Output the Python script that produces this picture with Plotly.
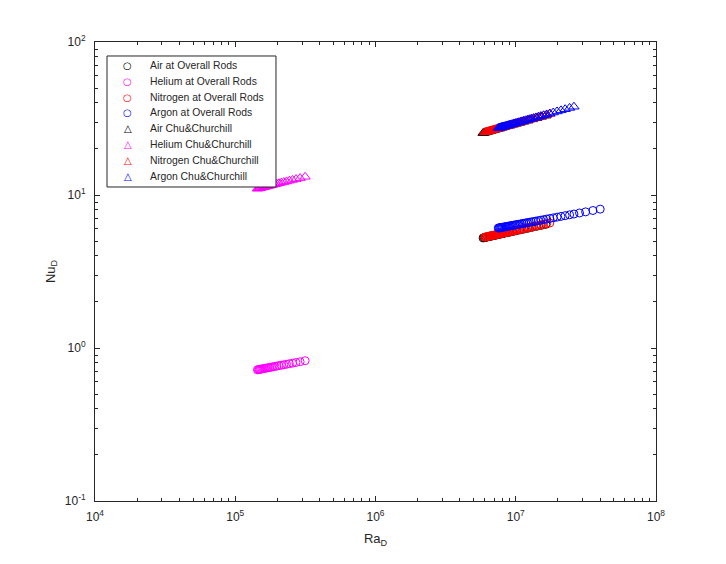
import plotly.graph_objects as go

# ---------------- data ----------------
he_ra = [1.44e5, 1.46e5, 1.48e5, 1.50e5, 1.52e5, 1.55e5, 1.58e5, 1.61e5, 1.64e5, 1.68e5,
         1.72e5, 1.76e5, 1.81e5, 1.86e5, 1.92e5, 1.98e5, 2.05e5, 2.13e5, 2.22e5, 2.32e5,
         2.43e5, 2.56e5, 2.71e5, 2.90e5, 3.15e5]
he_nu_rods = [0.720, 0.722, 0.724, 0.725, 0.727, 0.730, 0.732, 0.735, 0.737, 0.740,
              0.743, 0.746, 0.750, 0.754, 0.758, 0.762, 0.767, 0.772, 0.777, 0.783,
              0.789, 0.796, 0.804, 0.813, 0.826]
he_nu_cc = [11.00, 11.03, 11.07, 11.10, 11.14, 11.18, 11.24, 11.29, 11.33, 11.40,
            11.46, 11.52, 11.60, 11.67, 11.76, 11.84, 11.94, 12.04, 12.15, 12.27,
            12.40, 12.55, 12.70, 12.90, 13.15]

air_ra = [5.85e6, 5.95e6, 6.05e6, 6.15e6, 6.3e6, 6.45e6, 6.6e6, 6.8e6, 7.0e6, 7.2e6,
          7.45e6, 7.7e6, 8.0e6, 8.3e6, 8.7e6, 9.1e6, 9.6e6, 10.1e6, 10.7e6, 11.4e6,
          12.2e6, 13.1e6, 14.1e6, 15.2e6, 16.4e6]
air_nu_rods = [5.24, 5.26, 5.28, 5.29, 5.32, 5.34, 5.37, 5.40, 5.43, 5.46,
               5.50, 5.53, 5.58, 5.62, 5.67, 5.72, 5.78, 5.84, 5.91, 5.98,
               6.06, 6.15, 6.24, 6.33, 6.43]
air_nu_cc = [25.4, 25.5, 25.6, 25.7, 25.9, 26.0, 26.2, 26.4, 26.6, 26.8,
             27.0, 27.2, 27.5, 27.8, 28.1, 28.4, 28.8, 29.2, 29.6, 30.1,
             30.6, 31.2, 31.8, 32.4, 33.0]

n2_ra = [6.0e6, 6.1e6, 6.2e6, 6.3e6, 6.4e6, 6.5e6, 6.6e6, 6.7e6, 6.8e6, 6.9e6,
         7.0e6, 7.1e6, 7.2e6, 7.3e6, 7.4e6, 7.5e6, 7.6e6, 7.7e6, 7.8e6, 7.9e6,
         8.0e6, 8.1e6, 8.25e6, 8.4e6, 8.55e6, 8.7e6, 8.85e6, 9.0e6, 9.2e6, 9.4e6,
         9.6e6, 9.8e6, 10.0e6, 10.25e6, 10.5e6, 10.8e6, 11.1e6, 11.4e6, 11.75e6, 12.1e6,
         12.5e6, 12.9e6, 13.4e6, 13.9e6, 14.5e6, 15.1e6, 15.8e6, 16.6e6, 17.5e6]
n2_nu_rods = [5.300, 5.318, 5.335, 5.352, 5.369, 5.386, 5.402, 5.418, 5.434, 5.450,
              5.466, 5.481, 5.497, 5.512, 5.527, 5.542, 5.557, 5.571, 5.586, 5.600,
              5.614, 5.628, 5.649, 5.669, 5.689, 5.709, 5.729, 5.748, 5.773, 5.798,
              5.822, 5.846, 5.870, 5.898, 5.927, 5.960, 5.994, 6.026, 6.062, 6.098,
              6.138, 6.177, 6.224, 6.270, 6.323, 6.374, 6.432, 6.496, 6.565]
n2_nu_cc = [25.70, 25.81, 25.92, 26.03, 26.13, 26.24, 26.34, 26.44, 26.54, 26.64,
            26.74, 26.84, 26.94, 27.03, 27.13, 27.22, 27.31, 27.41, 27.50, 27.59,
            27.68, 27.77, 27.89, 28.02, 28.15, 28.28, 28.40, 28.53, 28.69, 28.85,
            29.01, 29.17, 29.32, 29.50, 29.68, 29.90, 30.12, 30.33, 30.56, 30.80,
            31.05, 31.31, 31.62, 31.92, 32.27, 32.60, 32.99, 33.41, 33.86]

ar_ra_cc = [7.5e6, 7.6e6, 7.7e6, 7.8e6, 7.9e6, 8.0e6, 8.1e6, 8.25e6, 8.4e6, 8.55e6,
            8.7e6, 8.85e6, 9.0e6, 9.2e6, 9.4e6, 9.6e6, 9.8e6, 10.0e6, 10.25e6, 10.5e6,
            10.8e6, 11.1e6, 11.4e6, 11.75e6, 12.1e6, 12.5e6, 12.9e6, 13.4e6, 13.9e6, 14.5e6,
            15.1e6, 15.8e6, 16.6e6, 17.5e6, 18.5e6, 19.7e6, 21.0e6, 22.5e6, 24.2e6, 26.0e6]
ar_nu_cc = [27.40, 27.49, 27.59, 27.68, 27.77, 27.86, 27.95, 28.08, 28.21, 28.34,
            28.47, 28.59, 28.72, 28.88, 29.04, 29.20, 29.36, 29.51, 29.70, 29.88,
            30.10, 30.32, 30.53, 30.76, 31.00, 31.26, 31.52, 31.83, 32.13, 32.48,
            32.82, 33.21, 33.63, 34.09, 34.59, 35.16, 35.74, 36.38, 37.07, 37.76]

ar_ra_rods = [7.5e6, 7.6e6, 7.7e6, 7.8e6, 7.9e6, 8.0e6, 8.1e6, 8.25e6, 8.4e6, 8.55e6,
              8.7e6, 8.85e6, 9.0e6, 9.2e6, 9.4e6, 9.6e6, 9.8e6, 10.0e6, 10.25e6, 10.5e6,
              10.8e6, 11.1e6, 11.4e6, 11.75e6, 12.1e6, 12.5e6, 12.9e6, 13.4e6, 13.9e6, 14.5e6,
              15.1e6, 15.8e6, 16.6e6, 17.5e6, 18.5e6, 19.7e6, 21.0e6, 22.5e6, 24.2e6, 26.0e6,
              28.5e6, 31.5e6, 35.5e6, 40.0e6]
ar_nu_rods = [6.080, 6.094, 6.107, 6.121, 6.134, 6.147, 6.160, 6.179, 6.198, 6.217,
              6.235, 6.254, 6.271, 6.295, 6.318, 6.341, 6.363, 6.385, 6.411, 6.437,
              6.469, 6.499, 6.529, 6.563, 6.595, 6.632, 6.668, 6.710, 6.752, 6.801,
              6.848, 6.901, 6.959, 7.022, 7.089, 7.165, 7.243, 7.328, 7.420, 7.511,
              7.629, 7.760, 7.919, 8.081]

names_rods = ["Air at Overall Rods", "Helium at Overall Rods",
              "Nitrogen at Overall Rods", "Argon at Overall Rods"]
names_cc = ["Air Chu&Churchill", "Helium Chu&Churchill",
            "Nitrogen Chu&Churchill", "Argon Chu&Churchill"]
colors = ["#000000", "#FF00FF", "#FF0000", "#0000FF"]

rods_x = [air_ra, he_ra, n2_ra, ar_ra_rods]
rods_y = [air_nu_rods, he_nu_rods, n2_nu_rods, ar_nu_rods]
cc_x = [air_ra, he_ra, n2_ra, ar_ra_cc]
cc_y = [air_nu_cc, he_nu_cc, n2_nu_cc, ar_nu_cc]

tick_vals_x = [1e4, 1e5, 1e6, 1e7, 1e8]
tick_text_x = ["10<sup>4</sup>", "10<sup>5</sup>", "10<sup>6</sup>", "10<sup>7</sup>", "10<sup>8</sup>"]
tick_vals_y = [0.1, 1, 10, 100]
tick_text_y = ["10<sup>-1</sup>", "10<sup>0</sup>", "10<sup>1</sup>", "10<sup>2</sup>"]

# ---------------- figure ----------------
fig = go.Figure()
for xs, ys, name, c in zip(rods_x, rods_y, names_rods, colors):
    fig.add_trace(go.Scatter(x=xs, y=ys, mode="markers", name=name, showlegend=False,
                             marker=dict(symbol="circle-open", size=8, color=c,
                                         line=dict(width=1, color=c))))
for xs, ys, name, c in zip(cc_x, cc_y, names_cc, colors):
    fig.add_trace(go.Scatter(x=xs, y=ys, mode="markers", name=name, showlegend=False,
                             marker=dict(symbol="triangle-up-open", size=9, color=c,
                                         line=dict(width=1, color=c))))

# ---------- compact legend box (text entries) ----------
leg_x0, leg_x1, leg_y0, leg_y1 = 0.0214, 0.3226, 0.6841, 0.9695
leg_top, leg_step = 0.9484, 0.03434
sym_x, txt_x = 0.0588, 0.0945
fig.add_shape(type="rect", xref="paper", yref="paper",
              x0=leg_x0, x1=leg_x1, y0=leg_y0, y1=leg_y1,
              line=dict(color="#262626", width=1), fillcolor="white", layer="above")
entries = ([(n, c, "○") for n, c in zip(names_rods, colors)] +
           [(n, c, "△") for n, c in zip(names_cc, colors)])
for i, (name, c, sym) in enumerate(entries):
    yy = leg_top - i * leg_step
    fig.add_annotation(xref="paper", yref="paper", x=sym_x, y=yy, text=sym,
                       showarrow=False, xanchor="center", yanchor="middle",
                       font=dict(family="DejaVu Sans", size=10, color=c))
    fig.add_annotation(xref="paper", yref="paper", x=txt_x, y=yy, text=name,
                       showarrow=False, xanchor="left", yanchor="middle",
                       font=dict(family="Liberation Sans, Arial", size=10.4, color="#262626"))

axis_common = dict(
    type="log", showgrid=False, zeroline=False,
    showline=True, linecolor="#262626", linewidth=1, mirror="ticks",
    ticks="inside", ticklen=5, tickcolor="#262626",
    tickfont=dict(family="Liberation Sans, Arial", size=12, color="#262626"),
    minor=dict(ticks="inside", ticklen=3, tickcolor="#262626", dtick="D1", showgrid=False),
)

fig.update_layout(
    width=726, height=564,
    margin=dict(l=95, r=70, t=42, b=63),
    plot_bgcolor="white", paper_bgcolor="white",
    font=dict(family="Liberation Sans, Arial", color="#262626"),
    showlegend=False,
    xaxis=dict(range=[4, 8], tickvals=tick_vals_x, ticktext=tick_text_x,
               ticklabelstandoff=5,
               title=dict(text="Ra<sub>D</sub>", font=dict(size=13), standoff=10),
               **axis_common),
    yaxis=dict(range=[-1, 2], tickvals=tick_vals_y, ticktext=tick_text_y,
               ticklabelstandoff=6,
               title=dict(text="Nu<sub>D</sub>", font=dict(size=13), standoff=6),
               **axis_common),
)

fig.write_html("out.html")
